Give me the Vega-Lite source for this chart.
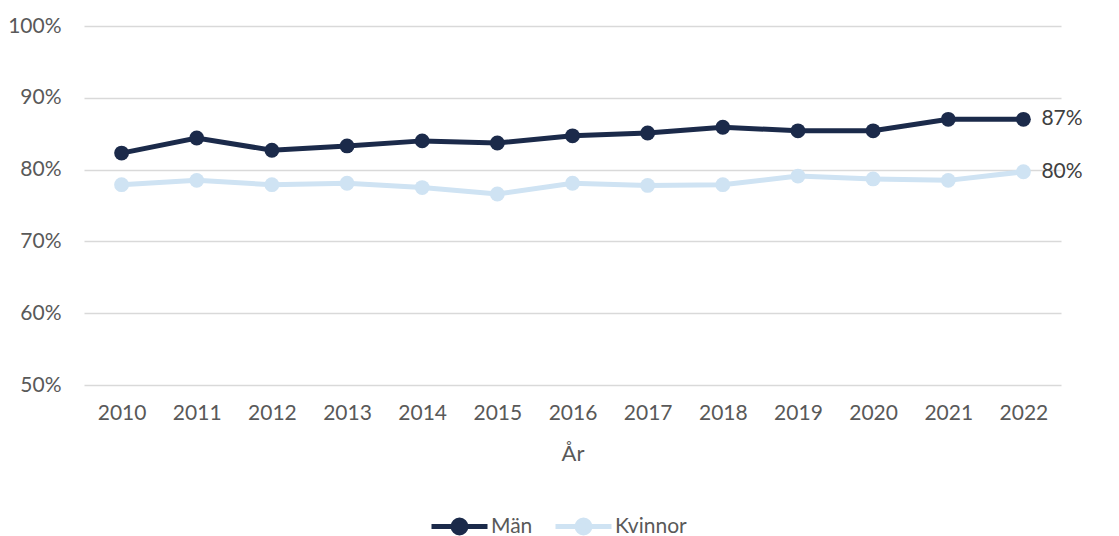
{
  "$schema": "https://vega.github.io/schema/vega-lite/v6.json",
  "width": 977,
  "height": 359,
  "autosize": {"type": "none"},
  "padding": {"left": 84, "top": 26, "right": 58, "bottom": 151},
  "background": "white",
  "config": {
    "font": "Lato",
    "view": {"stroke": null},
    "axis": {"labelFont": "Lato", "titleFont": "Lato", "labelColor": "#595959", "titleColor": "#595959", "labelFontSize": 21, "titleFontSize": 22, "titleFontWeight": "normal"}
  },
  "data": {
    "values": [
      {"year": "2010", "serie": "Män", "value": 0.823},
      {"year": "2011", "serie": "Män", "value": 0.844},
      {"year": "2012", "serie": "Män", "value": 0.827},
      {"year": "2013", "serie": "Män", "value": 0.833},
      {"year": "2014", "serie": "Män", "value": 0.840},
      {"year": "2015", "serie": "Män", "value": 0.837},
      {"year": "2016", "serie": "Män", "value": 0.847},
      {"year": "2017", "serie": "Män", "value": 0.851},
      {"year": "2018", "serie": "Män", "value": 0.859},
      {"year": "2019", "serie": "Män", "value": 0.854},
      {"year": "2020", "serie": "Män", "value": 0.854},
      {"year": "2021", "serie": "Män", "value": 0.870},
      {"year": "2022", "serie": "Män", "value": 0.870},
      {"year": "2010", "serie": "Kvinnor", "value": 0.779},
      {"year": "2011", "serie": "Kvinnor", "value": 0.785},
      {"year": "2012", "serie": "Kvinnor", "value": 0.779},
      {"year": "2013", "serie": "Kvinnor", "value": 0.781},
      {"year": "2014", "serie": "Kvinnor", "value": 0.775},
      {"year": "2015", "serie": "Kvinnor", "value": 0.766},
      {"year": "2016", "serie": "Kvinnor", "value": 0.781},
      {"year": "2017", "serie": "Kvinnor", "value": 0.778},
      {"year": "2018", "serie": "Kvinnor", "value": 0.779},
      {"year": "2019", "serie": "Kvinnor", "value": 0.791},
      {"year": "2020", "serie": "Kvinnor", "value": 0.787},
      {"year": "2021", "serie": "Kvinnor", "value": 0.785},
      {"year": "2022", "serie": "Kvinnor", "value": 0.797}
    ]
  },
  "encoding": {
    "x": {"field": "year", "type": "ordinal", "title": "År",
      "scale": {"paddingInner": 0, "paddingOuter": 0.5},
      "axis": {"labelAngle": 0, "ticks": false, "domain": false, "labelPadding": 17, "titlePadding": 20}},
    "y": {"field": "value", "type": "quantitative", "title": null,
      "scale": {"domain": [0.5, 1.0], "nice": false, "zero": false},
      "axis": {"format": ".0%", "values": [0.5, 0.6, 0.7, 0.8, 0.9, 1.0], "labelOverlap": false, "ticks": false, "domain": false, "labelPadding": 23, "gridColor": "#D9D9D9", "gridWidth": 1.5}},
    "color": {"field": "serie", "type": "nominal", "title": null,
      "scale": {"domain": ["Män", "Kvinnor"], "range": ["#1B2A4A", "#CFE3F3"]},
      "legend": {"orient": "none", "legendX": 345, "legendY": 470, "direction": "horizontal", "labelFontSize": 21, "labelColor": "#595959", "labelFont": "Lato",
        "symbolType": "M-1,0H1M-0.23,0A0.23,0.23 0 1,0 0.23,0A0.23,0.23 0 1,0 -0.23,0",
        "symbolSize": 3136, "symbolStrokeWidth": 5, "labelOffset": 1, "columnPadding": 12,
        "encode": {"symbols": {"update": {"fill": {"scale": "color", "field": "value"}, "stroke": {"scale": "color", "field": "value"}, "fillOpacity": {"value": 1}}}}}}
  },
  "layer": [
    {"mark": {"type": "line", "strokeWidth": 5}},
    {"mark": {"type": "point", "filled": true, "size": 220, "opacity": 1}},
    {"transform": [{"filter": "datum.year == '2022'"}],
      "mark": {"type": "text", "align": "left", "dx": 18, "fontSize": 21, "font": "Lato"},
      "encoding": {"text": {"field": "value", "type": "quantitative", "format": ".0%"}, "color": {"value": "#404040"}}}
  ]
}
